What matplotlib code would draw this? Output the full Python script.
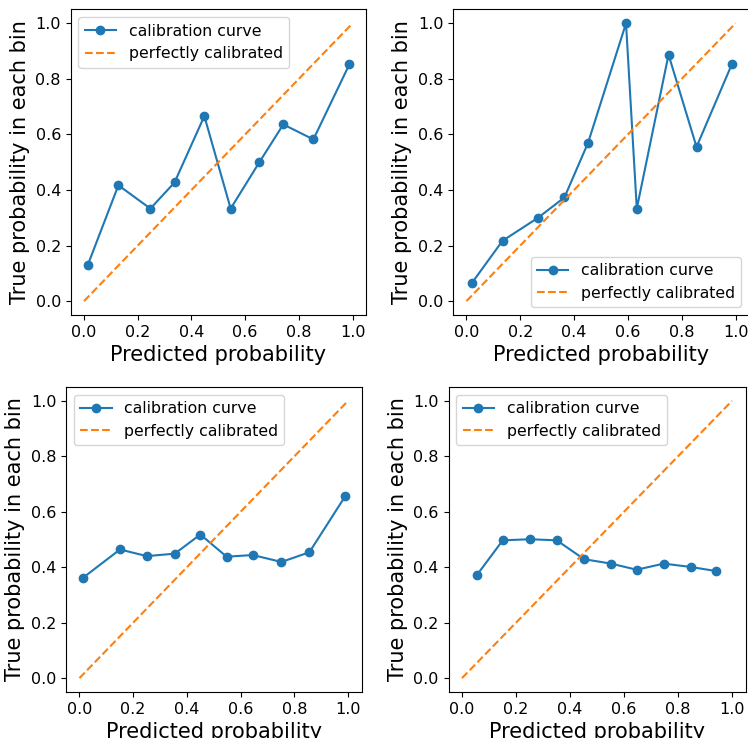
import matplotlib.pyplot as plt
import numpy as np

# mean predicted probability / fraction of positives, one pair per panel
pred_a = [0.014, 0.128, 0.247, 0.337, 0.448, 0.546, 0.653, 0.742, 0.854, 0.988]
true_a = [0.130, 0.417, 0.333, 0.427, 0.666, 0.333, 0.500, 0.636, 0.582, 0.852]

pred_b = [0.020, 0.134, 0.266, 0.364, 0.452, 0.593, 0.633, 0.751, 0.855, 0.986]
true_b = [0.065, 0.217, 0.300, 0.373, 0.570, 1.000, 0.333, 0.887, 0.555, 0.852]

pred_c = [0.012, 0.151, 0.251, 0.355, 0.450, 0.548, 0.645, 0.752, 0.856, 0.990]
true_c = [0.361, 0.464, 0.440, 0.449, 0.518, 0.438, 0.444, 0.419, 0.454, 0.657]

pred_d = [0.056, 0.151, 0.252, 0.351, 0.452, 0.552, 0.647, 0.747, 0.847, 0.942]
true_d = [0.373, 0.497, 0.501, 0.497, 0.429, 0.413, 0.391, 0.413, 0.401, 0.386]

diag = [0.0, 1.0]

panels = [
  (pred_a, true_a, "upper left", [70.6, 9.4, 366, 315]),
  (pred_b, true_b, "lower right", [453, 9.4, 749, 315]),
  (pred_c, true_c, "upper left", [66, 387, 361.5, 692]),
  (pred_d, true_d, "upper left", [448.5, 387, 745.5, 692]),
]

W, H = 748, 738
fig = plt.figure(figsize=(W / 100, H / 100), dpi=100, facecolor="white")

for pred, frac, loc, (x0, y0, x1, y1) in panels:
  ax = fig.add_axes([x0 / W, 1 - y1 / H, (x1 - x0) / W, (y1 - y0) / H])
  ax.plot(pred, frac, marker="o", label="calibration curve")
  ax.plot(diag, diag, linestyle="--", label="perfectly calibrated")
  ax.set_xticks(np.arange(0, 1.01, 0.2))
  ax.set_yticks(np.arange(0, 1.01, 0.2))
  ax.tick_params(labelsize=11.5)
  ax.set_xlabel("Predicted probability", fontsize=15)
  ax.set_ylabel("True probability in each bin", fontsize=15)
  ax.legend(loc=loc, fontsize=11.3)

fig.savefig("out.png", dpi=100)
